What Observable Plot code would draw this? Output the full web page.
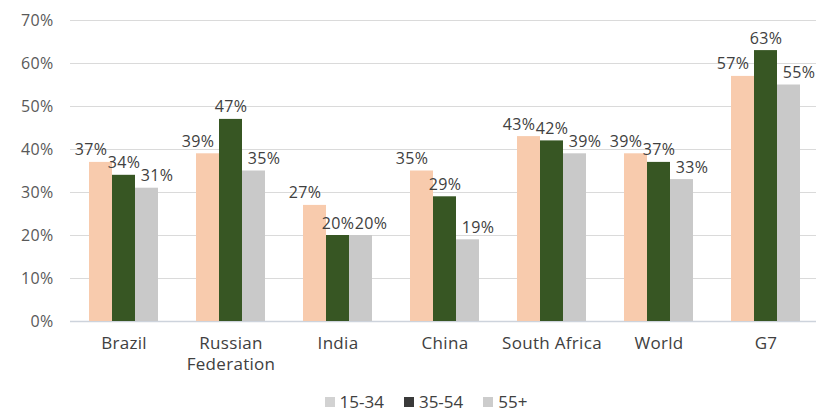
<!DOCTYPE html>
<html>
<head>
<meta charset="utf-8">
<script src="https://cdn.jsdelivr.net/npm/d3@7"></script>
<script src="https://cdn.jsdelivr.net/npm/@observablehq/plot@0.6"></script>
<style>
  html, body { margin: 0; padding: 0; background: #ffffff; overflow: hidden; }
  #chart { width: 816px; height: 385px; overflow: hidden; }
  .legend {
    position: absolute; left: 0; top: 392px; width: 816px;
    display: flex; justify-content: center; align-items: center; gap: 20px;
    font-family: "Open Sans", sans-serif; font-size: 17px; line-height: 20px; color: #404040;
    height: 20px; padding-left: 36px; box-sizing: border-box;
  }
  .legend span.item { display: inline-flex; align-items: center; gap: 5px; }
  .legend span.sw { display: inline-block; width: 10px; height: 10px; }
</style>
</head>
<body>
<div id="chart"></div>
<script>
// Share of respondents by age group, per economy
const countries = ["Brazil", "Russian Federation", "India", "China", "South Africa", "World", "G7"];
const ageGroups = ["15-34", "35-54", "55+"];
const share15to34 = [37, 39, 27, 35, 43, 39, 57];
const share35to54 = [34, 47, 20, 29, 42, 37, 63];
const share55plus = [31, 35, 20, 19, 39, 33, 55];

const barColors = ["#f8cbad", "#375623", "#c9c9c9"];
const legendSwatches = ["#d2d2d2", "#3a3a3a", "#cccccc"];

const seriesValues = [share15to34, share35to54, share55plus];
const rows = countries.flatMap((country, i) =>
  ageGroups.map((group, j) => ({country, group, value: seriesValues[j][i]}))
);

// two-line category names under the groups
const categoryLabel = (c) => c.replace(" Federation", "\nFederation");

// small per-series nudges so neighbouring value labels do not collide
const labelShift = {"15-34": -10, "35-54": 0, "55+": 10};

const valueLabels = ageGroups.map((g) =>
  Plot.text(rows.filter((d) => d.group === g), {
    fx: "country", x: "group", y: "value",
    text: (d) => d.value + "%",
    lineAnchor: "bottom", dy: -7, dx: labelShift[g],
    fill: "#404040", fontSize: 16, letterSpacing: "0.4px"
  })
);

const chart = Plot.plot({
  width: 816,
  height: 385,
  marginLeft: 67,
  marginRight: -5,
  marginTop: 20,
  marginBottom: 64,
  style: {fontFamily: "Open Sans, sans-serif", fontSize: "16px", color: "#595959", background: "#ffffff", overflow: "hidden", letterSpacing: "0.3px"},
  fx: {domain: countries, paddingInner: 0, paddingOuter: 0, axis: null, label: null},
  x: {domain: ageGroups, paddingInner: 0.02, paddingOuter: 0.8, axis: null, label: null},
  y: {domain: [0, 70], ticks: 7, tickFormat: (d) => d + "%", tickSize: 0, tickPadding: 17, label: null},
  color: {domain: ageGroups, range: barColors},
  marks: [
    Plot.ruleY([10, 20, 30, 40, 50, 60, 70], {stroke: "#dadada", strokeWidth: 1}),
    Plot.ruleY([0], {stroke: "#cdd3dc", strokeWidth: 1.5}),
    Plot.barY(rows, {fx: "country", x: "group", y: "value", fill: "group"}),
    ...valueLabels,
    Plot.text(countries, {
      fx: (d) => d, text: categoryLabel,
      frameAnchor: "bottom", lineAnchor: "top", dy: 12, lineHeight: 1.25,
      fill: "#404040", fontSize: 17, letterSpacing: "0.5px"
    })
  ]
});

document.getElementById("chart").append(chart);

// legend below the plot
const legend = document.createElement("div");
legend.className = "legend";
ageGroups.forEach((g, i) => {
  const item = document.createElement("span");
  item.className = "item";
  const sw = document.createElement("span");
  sw.className = "sw";
  sw.style.background = legendSwatches[i];
  const label = document.createElement("span");
  label.textContent = g;
  item.append(sw, label);
  legend.append(item);
});
document.body.append(legend);
</script>
</body>
</html>
